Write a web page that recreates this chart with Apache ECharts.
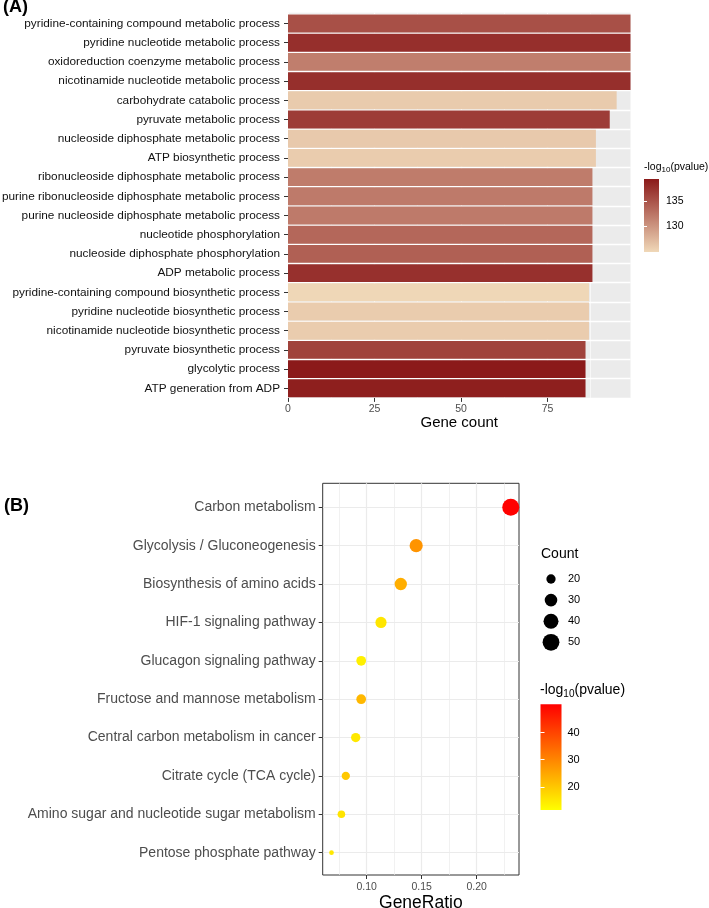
<!DOCTYPE html>
<html>
<head>
<meta charset="utf-8">
<script src="https://cdn.jsdelivr.net/npm/echarts@6/dist/echarts.min.js"></script>
<style>
  html, body { margin: 0; padding: 0; background: #fff; }
  #main { width: 709px; height: 908px; }
</style>
</head>
<body>
<div id="main"></div>
<script>
// (A) GO terms, top 20
const goTerms = [
  'pyridine-containing compound metabolic process',
  'pyridine nucleotide metabolic process',
  'oxidoreduction coenzyme metabolic process',
  'nicotinamide nucleotide metabolic process',
  'carbohydrate catabolic process',
  'pyruvate metabolic process',
  'nucleoside diphosphate metabolic process',
  'ATP biosynthetic process',
  'ribonucleoside diphosphate metabolic process',
  'purine ribonucleoside diphosphate metabolic process',
  'purine nucleoside diphosphate metabolic process',
  'nucleotide phosphorylation',
  'nucleoside diphosphate phosphorylation',
  'ADP metabolic process',
  'pyridine-containing compound biosynthetic process',
  'pyridine nucleotide biosynthetic process',
  'nicotinamide nucleotide biosynthetic process',
  'pyruvate biosynthetic process',
  'glycolytic process',
  'ATP generation from ADP'
];
const goCounts = [99, 99, 99, 99, 95, 93, 89, 89, 88, 88, 88, 88, 88, 88, 87, 87, 87, 86, 86, 86];
const goLogP = [135.2, 137.7, 131.7, 137.7, 125.9, 136.7, 126.0, 125.8, 131.9, 132.0,
                132.0, 133.5, 134.0, 137.6, 125.0, 125.8, 125.8, 136.3, 139.3, 138.9];
const goLogPRange = [124.9, 139.3];
const goLogPTicks = [130, 135];
const geneCountMax = 99;
const geneCountTicks = [0, 25, 50, 75];
const geneCountMinor = [12.5, 37.5, 62.5, 87.5];

// (B) KEGG pathways
const keggPathways = [
  'Carbon metabolism',
  'Glycolysis / Gluconeogenesis',
  'Biosynthesis of amino acids',
  'HIF-1 signaling pathway',
  'Glucagon signaling pathway',
  'Fructose and mannose metabolism',
  'Central carbon metabolism in cancer',
  'Citrate cycle (TCA cycle)',
  'Amino sugar and nucleotide sugar metabolism',
  'Pentose phosphate pathway'
];
const keggRatio = [0.231, 0.145, 0.131, 0.113, 0.095, 0.095, 0.090, 0.081, 0.077, 0.068];
const keggCount = [51, 32, 29, 25, 21, 21, 20, 18, 17, 15];
const keggLogP = [50.4, 27.8, 23.8, 15.2, 13.7, 22.3, 14.9, 19.8, 15.5, 14.9];
const keggLogPRange = [11.4, 50.5];
const keggLogPTicks = [20, 30, 40];
const ratioRange = [0.060, 0.2385];
const ratioTicks = [0.10, 0.15, 0.20];
const ratioMinor = [0.075, 0.125, 0.175, 0.225];
const countLegend = [20, 30, 40, 50];

const FONT = 'Liberation Sans, Arial, sans-serif';
const goColors = ['#F0D8B8', '#8B1A1A'];
const keggColors = ['#FFFF00', '#FF0000'];

const countMin = Math.min(...keggCount);
const countMax = Math.max(...keggCount);
function dotSize(c) {
  const t = Math.max(0, (c - countMin) / (countMax - countMin));
  return 4.7 + Math.sqrt(t) * 12.3;
}

function colorBar(colors) {
  return function (params, api) {
    const a = api.coord([api.value(0), api.value(3)]);
    const b = api.coord([api.value(2), api.value(1)]);
    return {
      type: 'rect',
      shape: { x: a[0], y: a[1], width: b[0] - a[0], height: b[1] - a[1] },
      style: {
        fill: new echarts.graphic.LinearGradient(0, 0, 0, 1, [
          { offset: 0, color: colors[1] },
          { offset: 1, color: colors[0] }
        ])
      }
    };
  };
}

const hidden = { show: false };
const sub = { fontSize: 8, verticalAlign: 'bottom', lineHeight: 11, fontFamily: FONT };
const subB = { fontSize: 10, verticalAlign: 'bottom', lineHeight: 15, fontFamily: FONT };

const chart = echarts.init(document.getElementById('main'), null, { renderer: 'canvas' });

chart.setOption({
  animation: false,
  backgroundColor: '#fff',
  textStyle: { fontFamily: FONT },
  title: [
    { text: '(A)', left: 3, top: -2, padding: 0,
      textStyle: { fontSize: 18, fontWeight: 'bold', color: '#000', fontFamily: FONT } },
    { text: '(B)', left: 4, top: 497, padding: 0,
      textStyle: { fontSize: 18, fontWeight: 'bold', color: '#000', fontFamily: FONT } },
    { text: '-log{s|10}(pvalue)', left: 644, top: 161, padding: 0,
      textStyle: { fontSize: 10.5, color: '#000', fontWeight: 'normal', fontFamily: FONT, lineHeight: 13,
        rich: { s: sub } } },
    { text: 'Count', left: 541, top: 547, padding: 0,
      textStyle: { fontSize: 14, color: '#000', fontWeight: 'normal', fontFamily: FONT } },
    { text: '-log{s|10}(pvalue)', left: 540, top: 682, padding: 0,
      textStyle: { fontSize: 14, color: '#000', fontWeight: 'normal', fontFamily: FONT, lineHeight: 17,
        rich: { s: subB } } }
  ],
  grid: [
    // 0: panel A background + x axis
    { left: 288, top: 12.7, width: 342.5, height: 385.2, show: true, backgroundColor: '#EBEBEB',
      borderWidth: 0, outerBoundsMode: 'none' },
    // 1: panel A bars
    { left: 288, top: 13.9, width: 342.5, height: 384, outerBoundsMode: 'none' },
    // 2: panel A colour bar
    { left: 644, top: 179, width: 15, height: 73, outerBoundsMode: 'none' },
    // 3: panel B frame + x axis
    { left: 322.7, top: 483.3, width: 196.3, height: 391.7, show: true, backgroundColor: '#fff',
      borderColor: '#333333', borderWidth: 1, outerBoundsMode: 'none' },
    // 4: panel B dots
    { left: 322.7, top: 507.3, width: 196.3, height: 345.4, outerBoundsMode: 'none' },
    // 5: panel B size legend
    { left: 541, top: 579, width: 20, height: 63.3, outerBoundsMode: 'none' },
    // 6: panel B colour bar
    { left: 540.5, top: 704.3, width: 21, height: 105.7, outerBoundsMode: 'none' }
  ],
  xAxis: [
    { gridIndex: 0, type: 'value', min: 0, max: geneCountMax, position: 'bottom',
      axisLine: hidden,
      axisTick: { show: true, length: 4, customValues: geneCountTicks, lineStyle: { color: '#333', width: 1 } },
      axisLabel: { customValues: geneCountTicks, color: '#4D4D4D', fontSize: 10.5, margin: 6, fontFamily: FONT },
      splitLine: { show: true, lineStyle: { color: '#fff', width: 1.2 } },
      name: 'Gene count', nameLocation: 'middle', nameGap: 17,
      nameTextStyle: { fontSize: 15, color: '#000', fontFamily: FONT } },
    { gridIndex: 0, type: 'value', min: 0, max: geneCountMax, position: 'top',
      axisLine: hidden, axisLabel: hidden,
      axisTick: { show: false, customValues: geneCountMinor },
      splitLine: { show: true, lineStyle: { color: '#fff', width: 0.6 } } },
    { gridIndex: 1, type: 'value', min: 0, max: geneCountMax, show: false },
    { gridIndex: 2, type: 'value', min: 0, max: 1, show: false },
    { gridIndex: 3, type: 'value', min: ratioRange[0], max: ratioRange[1], position: 'bottom',
      axisLine: hidden,
      axisTick: { show: true, length: 4, customValues: ratioTicks, lineStyle: { color: '#333', width: 1 } },
      axisLabel: { customValues: ratioTicks, color: '#4D4D4D', fontSize: 10.5, margin: 7, fontFamily: FONT,
        formatter: v => v.toFixed(2) },
      splitLine: { show: true, lineStyle: { color: '#EBEBEB', width: 1.2 } },
      name: 'GeneRatio', nameLocation: 'middle', nameGap: 18,
      nameTextStyle: { fontSize: 17.5, color: '#000', fontFamily: FONT } },
    { gridIndex: 3, type: 'value', min: ratioRange[0], max: ratioRange[1], position: 'top',
      axisLine: hidden, axisLabel: hidden,
      axisTick: { show: false, customValues: ratioMinor },
      splitLine: { show: true, lineStyle: { color: '#EBEBEB', width: 0.7 } } },
    { gridIndex: 4, type: 'value', min: ratioRange[0], max: ratioRange[1], show: false },
    { gridIndex: 5, type: 'value', min: -1, max: 1, show: false },
    { gridIndex: 6, type: 'value', min: 0, max: 1, show: false }
  ],
  yAxis: [
    { gridIndex: 0, type: 'value', show: false },
    { gridIndex: 1, type: 'category', data: goTerms, inverse: true,
      axisLine: hidden,
      axisTick: { show: true, alignWithLabel: true, length: 4, lineStyle: { color: '#333', width: 1 } },
      axisLabel: { interval: 0, color: '#111', fontSize: 11.8, margin: 8, fontFamily: FONT },
      splitLine: { show: true, interval: 0, lineStyle: { color: '#fff', width: 1.4 } } },
    { gridIndex: 2, type: 'value', min: goLogPRange[0], max: goLogPRange[1], position: 'right', z: 5,
      axisLine: hidden,
      axisTick: { show: true, inside: true, length: 3, customValues: goLogPTicks, lineStyle: { color: '#fff', width: 1 } },
      axisLabel: { customValues: goLogPTicks, color: '#000', fontSize: 10.5, margin: 7, fontFamily: FONT },
      splitLine: hidden },
    { gridIndex: 2, type: 'value', min: goLogPRange[0], max: goLogPRange[1], position: 'left', z: 5,
      axisLine: hidden, axisLabel: hidden, splitLine: hidden,
      axisTick: { show: true, inside: true, length: 3, customValues: goLogPTicks, lineStyle: { color: '#fff', width: 1 } } },
    { gridIndex: 3, type: 'value', show: false },
    { gridIndex: 4, type: 'category', data: keggPathways, inverse: true, boundaryGap: false,
      axisLine: hidden,
      axisTick: { show: true, length: 4, lineStyle: { color: '#333', width: 1 } },
      axisLabel: { interval: 0, color: '#4D4D4D', fontSize: 14, margin: 7, fontFamily: FONT },
      splitLine: { show: true, interval: 0, lineStyle: { color: '#EBEBEB', width: 1.2 } } },
    { gridIndex: 5, type: 'category', data: countLegend.map(String), inverse: true, boundaryGap: false,
      position: 'right', axisLine: hidden, axisTick: hidden, splitLine: hidden,
      axisLabel: { interval: 0, color: '#000', fontSize: 11, margin: 7, fontFamily: FONT } },
    { gridIndex: 6, type: 'value', min: keggLogPRange[0], max: keggLogPRange[1], position: 'right', z: 5,
      axisLine: hidden,
      axisTick: { show: true, inside: true, length: 4, customValues: keggLogPTicks, lineStyle: { color: '#fff', width: 1 } },
      axisLabel: { customValues: keggLogPTicks, color: '#000', fontSize: 11, margin: 6, fontFamily: FONT },
      splitLine: hidden },
    { gridIndex: 6, type: 'value', min: keggLogPRange[0], max: keggLogPRange[1], position: 'left', z: 5,
      axisLine: hidden, axisLabel: hidden, splitLine: hidden,
      axisTick: { show: true, inside: true, length: 4, customValues: keggLogPTicks, lineStyle: { color: '#fff', width: 1 } } }
  ],
  visualMap: [
    { type: 'continuous', show: false, seriesIndex: 0, dimension: 2,
      min: goLogPRange[0], max: goLogPRange[1], inRange: { color: goColors } },
    { type: 'continuous', show: false, seriesIndex: 2, dimension: 3,
      min: keggLogPRange[0], max: keggLogPRange[1], inRange: { color: keggColors } }
  ],
  series: [
    { type: 'bar', xAxisIndex: 2, yAxisIndex: 1,
      data: goTerms.map((t, i) => [goCounts[i], t, goLogP[i]]),
      encode: { x: 0, y: 1 },
      barCategoryGap: '7%' },
    { type: 'custom', xAxisIndex: 3, yAxisIndex: 2,
      renderItem: colorBar(goColors),
      data: [[0, goLogPRange[0], 1, goLogPRange[1]]] },
    { type: 'scatter', xAxisIndex: 6, yAxisIndex: 5, clip: false,
      data: keggPathways.map((p, i) => [keggRatio[i], p, keggCount[i], keggLogP[i]]),
      encode: { x: 0, y: 1 },
      symbolSize: d => dotSize(d[2]),
      itemStyle: { opacity: 1 } },
    { type: 'scatter', xAxisIndex: 7, yAxisIndex: 6,
      data: countLegend.map(c => [0, String(c), c]),
      encode: { x: 0, y: 1 },
      symbolSize: d => dotSize(d[2]),
      itemStyle: { color: '#000', opacity: 1 } },
    { type: 'custom', xAxisIndex: 8, yAxisIndex: 7,
      renderItem: colorBar(keggColors),
      data: [[0, keggLogPRange[0], 1, keggLogPRange[1]]] }
  ]
});
</script>
</body>
</html>
